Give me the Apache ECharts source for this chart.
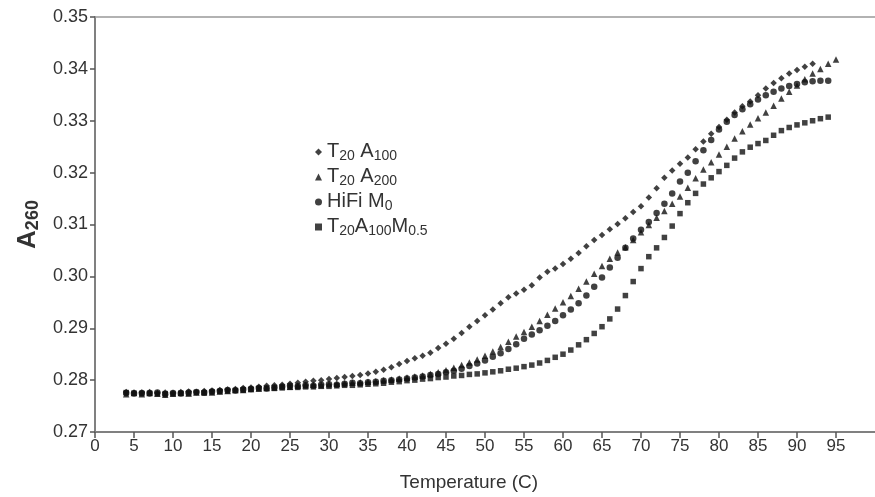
<!DOCTYPE html>
<html>
<head>
<meta charset="utf-8">
<script src="https://cdn.jsdelivr.net/npm/echarts@6/dist/echarts.min.js"></script>
<style>
  html, body { margin: 0; padding: 0; background: #fff; }
  #chart { width: 875px; height: 497px; }
</style>
</head>
<body>
<div id="chart"></div>
<script>
// temperature (C), one reading per degree
const temps = [
  4, 5, 6, 7, 8, 9, 10, 11, 12, 13, 14, 15, 16, 17, 18, 19, 20, 21, 22, 23,
  24, 25, 26, 27, 28, 29, 30, 31, 32, 33, 34, 35, 36, 37, 38, 39, 40, 41, 42, 43,
  44, 45, 46, 47, 48, 49, 50, 51, 52, 53, 54, 55, 56, 57, 58, 59, 60, 61, 62, 63,
  64, 65, 66, 67, 68, 69, 70, 71, 72, 73, 74, 75, 76, 77, 78, 79, 80, 81, 82, 83,
  84, 85, 86, 87, 88, 89, 90, 91, 92, 93, 94, 95
]

// T20 A100 (diamonds), 4..92
const t20a100 = [
  .2777, .2776, .2776, .2777, .2775, .2776, .2775, .2777, .2778, .2777,
  .2779, .2780, .2781, .2782, .2783, .2785, .2786, .2787, .2789, .2790,
  .2791, .2793, .2795, .2797, .2799, .2800, .2802, .2804, .2806, .2808,
  .2810, .2813, .2816, .2820, .2825, .2831, .2837, .2842, .2847, .2853,
  .2862, .2870, .2880, .2891, .2903, .2914, .2925, .2936, .2948, .2960,
  .2967, .2974, .2983, .2998, .3009, .3015, .3024, .3034, .3045, .3058,
  .3070, .3080, .3091, .3101, .3112, .3124, .3135, .3152, .3170, .3190,
  .3204, .3217, .3229, .3245, .3260, .3275, .3288, .3302, .3316, .3328,
  .3337, .3349, .3362, .3373, .3382, .3391, .3398, .3404, .3410
]

// T20 A200 (triangles), 4..95
const t20a200 = [
  .2773, .2775, .2773, .2775, .2774, .2772, .2774, .2775, .2774, .2776,
  .2777, .2776, .2778, .2779, .2781, .2781, .2783, .2784, .2785, .2786,
  .2788, .2787, .2789, .2790, .2791, .2790, .2792, .2793, .2794, .2795,
  .2796, .2797, .2798, .2800, .2801, .2803, .2805, .2807, .2809, .2812,
  .2815, .2819, .2824, .2829, .2834, .2840, .2847, .2855, .2864, .2874,
  .2884, .2893, .2903, .2914, .2926, .2938, .2950, .2962, .2976, .2990,
  .3005, .3020, .3034, .3046, .3056, .3070, .3085, .3099, .3113, .3126,
  .3140, .3154, .3171, .3189, .3206, .3220, .3235, .3250, .3266, .3280,
  .3293, .3305, .3316, .3329, .3343, .3356, .3368, .3380, .3391, .3400,
  .3410, .3418
]

// HiFi M0 (circles), 4..94
const hifiM0 = [
  .2775, .2774, .2775, .2774, .2776, .2773, .2775, .2774, .2776, .2777,
  .2776, .2778, .2779, .2781, .2780, .2782, .2783, .2785, .2784, .2786,
  .2787, .2789, .2788, .2790, .2789, .2791, .2792, .2791, .2793, .2795,
  .2794, .2796, .2797, .2799, .2800, .2801, .2803, .2805, .2807, .2810,
  .2812, .2815, .2818, .2822, .2827, .2832, .2838, .2845, .2852, .2860,
  .2869, .2880, .2888, .2896, .2905, .2914, .2925, .2936, .2948, .2963,
  .2980, .2998, .3017, .3036, .3055, .3073, .3090, .3105, .3122, .3140,
  .3160, .3183, .3200, .3222, .3243, .3263, .3283, .3298, .3311, .3322,
  .3332, .3341, .3349, .3356, .3362, .3367, .3371, .3374, .3376, .3377,
  .3377
]

// T20 A100 M0.5 (squares), 4..94
const t20a100m05 = [
  .2776, .2775, .2774, .2775, .2773, .2774, .2773, .2775, .2774, .2776,
  .2775, .2777, .2778, .2779, .2780, .2781, .2782, .2783, .2784, .2784,
  .2785, .2786, .2786, .2787, .2787, .2788, .2788, .2789, .2790, .2790,
  .2791, .2792, .2793, .2794, .2796, .2797, .2799, .2800, .2802, .2803,
  .2805, .2806, .2808, .2809, .2811, .2812, .2814, .2816, .2818, .2821,
  .2823, .2826, .2829, .2833, .2838, .2844, .2850, .2858, .2868, .2878,
  .2890, .2903, .2918, .2937, .2963, .2990, .3015, .3038, .3055, .3075,
  .3097, .3121, .3142, .3160, .3178, .3190, .3202, .3214, .3228, .3240,
  .3249, .3256, .3262, .3272, .3281, .3287, .3292, .3296, .3300, .3304,
  .3307
]

const seriesNames = ['T20 A100', 'T20 A200', 'HiFi M0', 'T20A100M0.5']
const seriesSymbols = ['diamond', 'triangle', 'circle', 'rect']
const seriesValues = [t20a100, t20a200, hifiM0, t20a100m05]

// legend text with subscripts
const legendRich = {
  'T20 A100': '{m|T}{s|20}{m| A}{s|100}',
  'T20 A200': '{m|T}{s|20}{m| A}{s|200}',
  'HiFi M0': '{m|HiFi M}{s|0}',
  'T20A100M0.5': '{m|T}{s|20}{m|A}{s|100}{m|M}{s|0.5}'
}

const font = 'Liberation Sans, Arial, sans-serif'
const axisGray = '#808080'

const chart = echarts.init(document.getElementById('chart'))

const option = {
  animation: false,
  backgroundColor: '#fff',
  grid: {
    left: 95,
    right: -9,
    top: 17,
    bottom: 64
  },
  legend: {
    orient: 'vertical',
    left: 310,
    top: 136,
    itemWidth: 7,
    itemHeight: 7,
    itemGap: 3,
    selectedMode: false,
    data: seriesNames.map((n, i) => ({ name: n, icon: seriesSymbols[i] })),
    formatter: (name) => legendRich[name],
    textStyle: {
      color: '#333',
      rich: {
        m: { fontFamily: font, fontSize: 20, color: '#333', lineHeight: 22, verticalAlign: 'top' },
        s: { fontFamily: font, fontSize: 14, color: '#333', lineHeight: 22, verticalAlign: 'bottom', padding: [8, 0, 0, 0] }
      }
    }
  },
  xAxis: [
    {
      type: 'value',
      min: 0,
      max: 100,
      interval: 5,
      name: 'Temperature (C)',
      nameLocation: 'middle',
      nameGap: 41,
      nameTextStyle: { fontFamily: font, fontSize: 19, color: '#333', padding: [0, 32, 0, 0] },
      axisLine: { show: true, onZero: false, lineStyle: { color: axisGray, width: 2 } },
      axisTick: { show: true, length: 6, lineStyle: { color: '#555', width: 1.5 } },
      axisLabel: { fontFamily: font, fontSize: 17, color: '#333', margin: 6, showMaxLabel: false },
      splitLine: { show: false }
    },
    {
      type: 'value',
      position: 'top',
      min: 0,
      max: 100,
      axisLine: { show: true, onZero: false, lineStyle: { color: '#999', width: 1.5 } },
      axisTick: { show: false },
      axisLabel: { show: false },
      splitLine: { show: false }
    }
  ],
  yAxis: {
    type: 'value',
    min: 0.27,
    max: 0.35,
    interval: 0.01,
    name: '{a|A}{b|260}',
    nameLocation: 'middle',
    nameRotate: 90,
    nameGap: 52,
    nameTextStyle: {
      rich: {
        a: { fontFamily: font, fontSize: 26, fontWeight: 'bold', color: '#333', lineHeight: 28 },
        b: { fontFamily: font, fontSize: 18, fontWeight: 'bold', color: '#333', lineHeight: 28, verticalAlign: 'bottom', padding: [8, 0, 0, 0] }
      }
    },
    axisLine: { show: true, onZero: false, lineStyle: { color: axisGray, width: 2 } },
    axisTick: { show: true, length: 5, lineStyle: { color: '#555', width: 1.5 } },
    axisLabel: {
      fontFamily: font,
      fontSize: 18,
      color: '#333',
      margin: 7,
      formatter: (v) => v.toFixed(2)
    },
    splitLine: { show: false }
  },
  series: seriesValues.map((vals, i) => ({
    name: seriesNames[i],
    type: 'scatter',
    symbol: seriesSymbols[i],
    symbolSize: seriesSymbols[i] === 'rect' ? 5.5 : 6.5,
    itemStyle: { color: '#111' },
    silent: true,
    data: vals.map((v, j) => [temps[j], v])
  }))
}

chart.setOption(option)
</script>
</body>
</html>
